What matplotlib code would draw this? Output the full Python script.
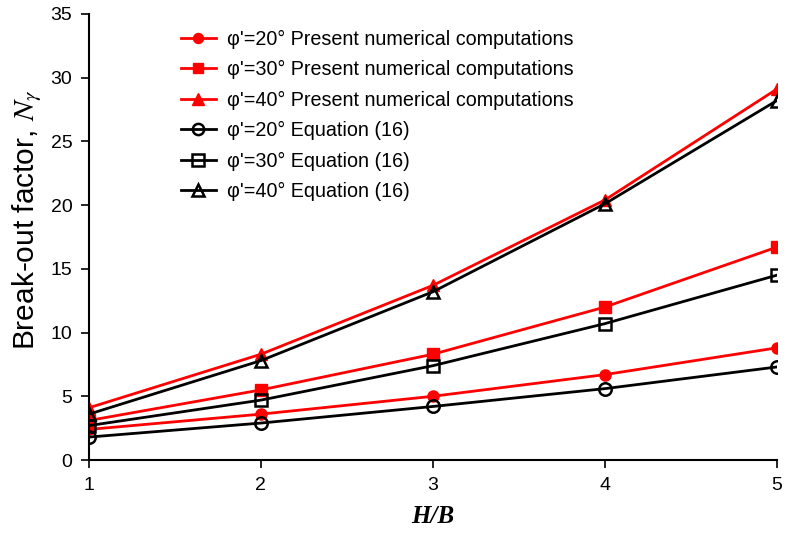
import numpy as np
import matplotlib.pyplot as plt

plt.rcParams['font.family'] = ['Liberation Sans', 'DejaVu Sans']
plt.rcParams['mathtext.fontset'] = 'stix'

hb = [1, 2, 3, 4, 5]

# present numerical computations
num_20 = [2.4, 3.6, 5.0, 6.7, 8.8]
num_30 = [3.1, 5.5, 8.3, 12.0, 16.7]
num_40 = [4.1, 8.3, 13.7, 20.4, 29.1]

# equation (16)
eq_20 = [1.8, 2.9, 4.2, 5.6, 7.3]
eq_30 = [2.7, 4.7, 7.4, 10.7, 14.5]
eq_40 = [3.6, 7.8, 13.2, 20.1, 28.2]

fig = plt.figure(figsize=(7.91, 5.41), dpi=100)
ax = fig.add_axes([0.1125, 0.1497, 0.8695, 0.8245])

ax.plot(hb, num_20, color='red', lw=2, marker='o', ms=8, label="φ'=20° Present numerical computations")
ax.plot(hb, num_30, color='red', lw=2, marker='s', ms=8, label="φ'=30° Present numerical computations")
ax.plot(hb, num_40, color='red', lw=2, marker='^', ms=9, label="φ'=40° Present numerical computations")
ax.plot(hb, eq_20, color='black', lw=2, marker='o', ms=9, mfc='none', mew=1.8, label="φ'=20° Equation (16)")
ax.plot(hb, eq_30, color='black', lw=2, marker='s', ms=9, mfc='none', mew=1.8, label="φ'=30° Equation (16)")
ax.plot(hb, eq_40, color='black', lw=2, marker='^', ms=9, mfc='none', mew=1.8, label="φ'=40° Equation (16)")

ax.set_xlim(1, 5)
ax.set_ylim(0, 35)
ax.set_xticks([1, 2, 3, 4, 5])
ax.set_yticks(np.arange(0, 36, 5))
ax.spines['top'].set_visible(False)
ax.spines['right'].set_visible(False)
ax.spines['left'].set_linewidth(1.5)
ax.spines['bottom'].set_linewidth(1.5)
ax.tick_params(direction='out', length=6, width=1.2, labelsize=14, pad=6)

ax.set_xlabel('H/B', fontsize=18, fontfamily='Liberation Serif', fontstyle='italic', fontweight='bold', labelpad=8)
ax.set_ylabel(r'Break-out factor, $\mathit{N}_{\gamma}$', fontsize=21.5)
ax.yaxis.set_label_coords(-0.065, 0.538)

leg = ax.legend(loc='upper left', bbox_to_anchor=(0.108, 1.005), frameon=False, fontsize=14.2,
                handlelength=1.75, labelspacing=0.58, handletextpad=0.6, markerscale=0.9)

fig.savefig('out.png', dpi=100)
